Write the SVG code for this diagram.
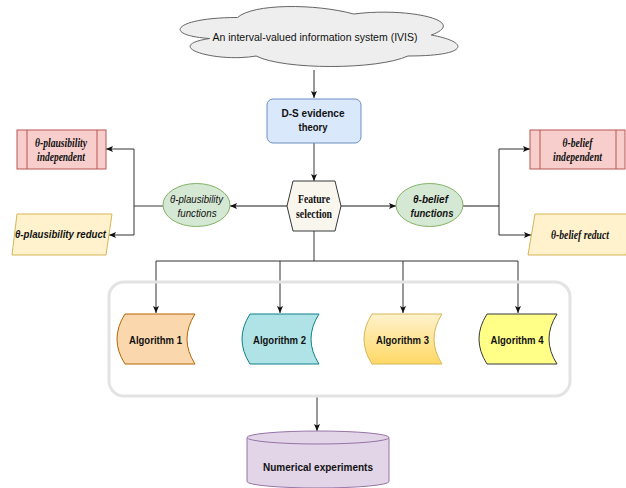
<svg xmlns="http://www.w3.org/2000/svg" width="626" height="488" viewBox="0 0 626 488">
<style>
.sans{font-family:"Liberation Sans",Arial,sans-serif;font-size:11.5px;fill:#111;text-anchor:middle}
.serif{font-family:"Liberation Serif","Times New Roman",serif;font-size:11.5px;fill:#111;text-anchor:middle;font-weight:bold;font-style:italic}
.b{font-weight:bold}
.i{font-style:italic}
.conn{fill:none;stroke:#333;stroke-width:1}
.conn2{fill:none;stroke:#666;stroke-width:1.3}
.arr{marker-end:url(#ah)}
.red{fill:#f8cecc;stroke:#b85450;stroke-width:1}
.yel{fill:#fff2cc;stroke:#d6b656;stroke-width:1}
.grn{fill:#d5e8d4;stroke:#82b366;stroke-width:1}
</style>
<defs>
<marker id="ah" viewBox="0 0 7 6" refX="7" refY="3" markerWidth="7" markerHeight="6" markerUnits="userSpaceOnUse" orient="auto">
<path d="M0,0 L7,3 L0,6 L1.5,3 Z" fill="#111"/>
</marker>
<linearGradient id="g3" x1="0" y1="0" x2="0" y2="1">
<stop offset="0" stop-color="#fff2cc"/>
<stop offset="1" stop-color="#ffd966"/>
</linearGradient>
</defs>

<g id="connectors">
<path class="conn arr" d="M314,70 V98"/>
<path class="conn2 arr" d="M314,143 V181"/>
<path class="conn2 arr" d="M287,206 H230"/>
<path class="conn2" d="M163,206 H134"/>
<path class="conn arr" d="M134,206 V149 H106"/>
<path class="conn arr" d="M134,206 V235 H109"/>
<path class="conn2 arr" d="M341,206 H396"/>
<path class="conn2" d="M463,206 H499"/>
<path class="conn arr" d="M499,206 V149 H530"/>
<path class="conn arr" d="M499,206 V235 H531"/>
<path class="conn2" d="M314,231 V261"/>
<path class="conn arr" d="M314,261 H156 V313"/>
<path class="conn arr" d="M314,261 H518 V313"/>
<path class="conn arr" d="M280,261 V313"/>
<path class="conn arr" d="M403,261 V313"/>
<path class="conn arr" d="M317,396 V431"/>
</g>

<g id="ivis">
<path d="M237.5,17.5 C175.5,17.5 160,35 209.6,38.5 C160,46.2 215.8,63 256.1,56 C284,70 377,70 408,56 C470,56 470,42 431.25,35 C470,21 408,7 353.75,14 C315,3.5 253,3.5 237.5,17.5 Z" fill="#eeeeee" stroke="#666" stroke-width="1"/>
<text class="sans" x="315" y="41" textLength="205" lengthAdjust="spacingAndGlyphs">An  interval-valued information system (IVIS)</text>
</g>

<g id="ds">
<rect x="267" y="99" width="94" height="44" rx="6" fill="#dae8fc" stroke="#6c8ebf"/>
<text class="sans b" x="313" y="117" textLength="63" lengthAdjust="spacingAndGlyphs">D-S evidence</text>
<text class="sans b" x="313" y="131" textLength="29" lengthAdjust="spacingAndGlyphs">theory</text>
</g>

<g id="feature">
<path d="M293,181 H335 L341,206 L335,231 H293 L287,206 Z" fill="#f9f7ed" stroke="#36393d" stroke-linejoin="round"/>
<text class="serif" style="font-style:normal" x="314" y="203" textLength="32" lengthAdjust="spacingAndGlyphs">Feature</text>
<text class="serif" style="font-style:normal" x="314" y="218" textLength="36" lengthAdjust="spacingAndGlyphs">selection</text>
</g>

<g id="plaus-func">
<ellipse class="grn" cx="196.5" cy="205" rx="33.5" ry="21.5"/>
<text class="sans i" x="196.5" y="203" textLength="53" lengthAdjust="spacingAndGlyphs">θ-plausibility</text>
<text class="sans i" x="197" y="217" textLength="39" lengthAdjust="spacingAndGlyphs">functions</text>
</g>

<g id="belief-func">
<ellipse class="grn" cx="429.5" cy="205" rx="33.5" ry="21.5"/>
<text class="sans b i" x="430.5" y="203" textLength="35" lengthAdjust="spacingAndGlyphs">θ-belief</text>
<text class="sans b i" x="432" y="217" textLength="43" lengthAdjust="spacingAndGlyphs">functions</text>
</g>

<g id="plaus-indep">
<rect class="red" x="17" y="130" width="89" height="39"/>
<path d="M27,130 V169 M97,130 V169" stroke="#b85450" fill="none"/>
<text class="serif" x="61" y="147" textLength="52" lengthAdjust="spacingAndGlyphs">θ-plausibility</text>
<text class="serif" x="61" y="161" textLength="48" lengthAdjust="spacingAndGlyphs">independent</text>
</g>

<g id="plaus-reduct">
<path class="yel" d="M17,214 H112 L106,255 H12 Z"/>
<text class="sans b i" x="60.5" y="238" textLength="91" lengthAdjust="spacingAndGlyphs">θ-plausibility reduct</text>
</g>

<g id="belief-indep">
<rect class="red" x="530" y="130" width="95" height="39"/>
<path d="M540,130 V169 M616,130 V169" stroke="#b85450" fill="none"/>
<text class="serif" x="577.5" y="147" textLength="30" lengthAdjust="spacingAndGlyphs">θ-belief</text>
<text class="serif" x="577.5" y="161" textLength="49" lengthAdjust="spacingAndGlyphs">independent</text>
</g>

<g id="belief-reduct">
<path class="yel" d="M535,214 H632 L626,255 H528 Z"/>
<text class="serif" x="580" y="239" textLength="58" lengthAdjust="spacingAndGlyphs">θ-belief reduct</text>
</g>

<g id="algorithms">
<rect x="109" y="282" width="461" height="114" rx="15" fill="none" stroke="#e3e3e3" stroke-width="3"/>
</g>

<g id="alg1">
<path d="M125,314 H195 Q179,339 195,364 H125 Q109,339 125,314 Z" fill="#fad7ac" stroke="#b46504"/>
<text class="sans b" x="155.5" y="343.5" textLength="53" lengthAdjust="spacingAndGlyphs">Algorithm 1</text>
</g>
<g id="alg2">
<path d="M250,314 H319 Q303,339 319,364 H250 Q234,339 250,314 Z" fill="#b0e3e6" stroke="#0e8088"/>
<text class="sans b" x="279.5" y="343.5" textLength="53" lengthAdjust="spacingAndGlyphs">Algorithm 2</text>
</g>
<g id="alg3">
<path d="M372,314 H442 Q426,339 442,364 H372 Q356,339 372,314 Z" fill="url(#g3)" stroke="#d6b656"/>
<text class="sans b" x="402.5" y="343.5" textLength="53" lengthAdjust="spacingAndGlyphs">Algorithm 3</text>
</g>
<g id="alg4">
<path d="M487,314 H557 Q541,339 557,364 H487 Q471,339 487,314 Z" fill="#ffff88" stroke="#36393d"/>
<text class="sans b" x="517" y="343.5" textLength="53" lengthAdjust="spacingAndGlyphs">Algorithm 4</text>
</g>

<g id="numerical">
<path d="M247,437.5 V481.5 A71,6.5 0 0 0 389,481.5 V437.5 A71,6.5 0 0 0 247,437.5 Z" fill="#e1d5e7" stroke="#9673a6"/>
<path d="M247,437.5 A71,6.5 0 0 0 389,437.5" fill="none" stroke="#9673a6"/>
<text class="sans b" x="318" y="471" textLength="110" lengthAdjust="spacingAndGlyphs">Numerical experiments</text>
</g>
</svg>
